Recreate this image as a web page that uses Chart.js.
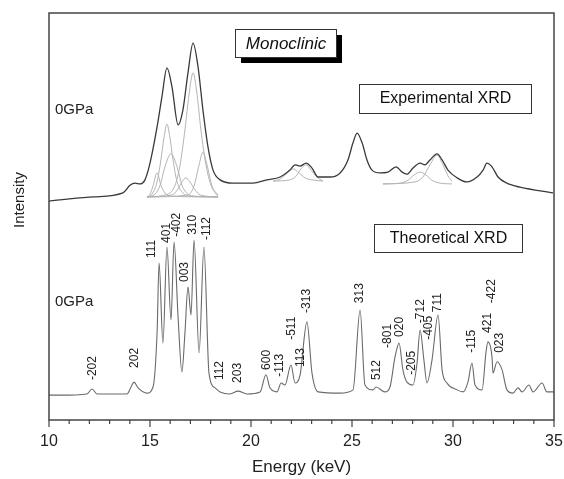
<!DOCTYPE html>
<html>
<head>
<meta charset="utf-8">
<script src="https://cdn.jsdelivr.net/npm/chart.js@4"></script>
<style>
  body { margin: 0; background: #fff; }
  canvas { display: block; }
</style>
</head>
<body>
<canvas id="xrd" width="564" height="479"></canvas>
<script>
// experimental pattern (top trace)
const expEnergy = [10.00, 10.54, 12.18, 13.66, 14.01, 14.26, 14.50, 14.75, 15.00, 15.35, 15.59, 15.84, 16.09, 16.39, 16.63, 16.88, 17.13, 17.38, 17.62, 17.87, 18.12, 18.47, 19.11, 20.10, 20.79, 21.44, 21.93, 22.18, 22.43, 22.72, 23.02, 23.32, 23.91, 24.41, 24.80, 25.05, 25.25, 25.50, 25.74, 25.99, 26.39, 26.78, 27.18, 27.48, 27.72, 28.02, 28.37, 28.61, 28.86, 29.21, 29.46, 29.75, 30.20, 30.69, 31.19, 31.49, 31.68, 31.93, 32.23, 32.67, 33.32, 34.95];
const expIntensity = [53.8, 54.1, 54.8, 55.8, 57.7, 58.2, 58.0, 59.0, 63.1, 72.0, 79.4, 86.5, 81.8, 72.5, 76.2, 85.3, 92.6, 86.7, 76.2, 67.1, 61.4, 59.0, 58.2, 58.2, 59.0, 59.7, 61.4, 62.7, 62.4, 63.1, 61.9, 59.7, 59.7, 60.7, 63.9, 68.1, 70.5, 68.1, 63.9, 61.4, 60.7, 60.9, 62.2, 60.9, 60.4, 61.9, 63.1, 62.7, 63.9, 65.4, 63.9, 61.4, 59.5, 58.5, 59.7, 61.4, 63.1, 62.2, 59.7, 58.2, 57.2, 55.8];

// calculated pattern (bottom trace)
const thEnergy = [10.00, 10.54, 11.88, 12.13, 12.38, 13.86, 14.06, 14.21, 14.41, 14.85, 15.15, 15.35, 15.45, 15.64, 15.84, 16.04, 16.19, 16.39, 16.58, 16.73, 16.88, 17.03, 17.18, 17.43, 17.67, 17.92, 18.22, 18.47, 18.96, 19.36, 19.80, 20.45, 20.74, 20.94, 21.29, 21.49, 21.68, 21.98, 22.18, 22.43, 22.77, 23.02, 23.32, 24.41, 25.05, 25.40, 25.64, 26.04, 26.19, 26.63, 26.88, 27.13, 27.33, 27.52, 27.72, 28.02, 28.22, 28.37, 28.56, 28.71, 28.96, 29.26, 29.46, 29.70, 30.20, 30.50, 30.74, 30.94, 31.09, 31.44, 31.63, 31.73, 31.93, 31.98, 32.18, 32.43, 32.67, 32.97, 33.22, 33.42, 33.76, 33.96, 34.41, 34.65, 35.00];
const thIntensity = [6.1, 6.1, 6.4, 7.6, 6.4, 6.4, 8.1, 9.3, 7.9, 6.6, 8.1, 21.4, 38.6, 18.9, 42.5, 24.6, 43.7, 25.3, 11.8, 21.4, 32.7, 25.8, 44.2, 16.5, 42.5, 11.5, 7.9, 6.9, 6.4, 7.1, 6.4, 6.9, 11.1, 7.9, 6.9, 9.1, 8.6, 13.5, 9.1, 11.1, 24.1, 11.5, 6.9, 6.6, 7.4, 27.0, 8.6, 7.4, 8.1, 6.9, 8.1, 15.5, 18.9, 12.3, 9.3, 8.6, 14.0, 22.1, 14.7, 9.1, 14.7, 25.8, 12.3, 9.1, 7.4, 6.9, 9.3, 14.0, 8.6, 7.4, 16.5, 19.2, 15.5, 11.5, 14.3, 12.3, 7.4, 6.6, 7.9, 6.9, 8.6, 6.9, 9.1, 6.9, 6.9];

// fitted components under the experimental peaks, [energy, intensity]
const fit1 = [[14.85, 54.8], [15.00, 55.5], [15.15, 57.5], [15.35, 60.7], [15.54, 57.7], [15.74, 55.8], [15.99, 55.0], [18.37, 54.8]];
const fit2 = [[14.85, 54.8], [15.10, 55.5], [15.35, 58.5], [15.54, 63.9], [15.69, 69.3], [15.84, 72.7], [15.99, 69.3], [16.14, 63.9], [16.34, 58.5], [16.63, 55.8], [16.98, 55.0], [18.37, 54.8]];
const fit3 = [[14.85, 54.8], [15.25, 55.5], [15.50, 57.7], [15.74, 62.2], [16.04, 65.4], [16.34, 62.2], [16.58, 57.7], [16.88, 55.5], [17.23, 55.0], [18.37, 54.8]];
const fit4 = [[14.85, 54.8], [16.09, 55.3], [16.39, 56.8], [16.58, 58.5], [16.78, 59.5], [16.98, 58.5], [17.23, 56.5], [17.48, 55.3], [18.37, 54.8]];
const fit5 = [[14.85, 54.8], [15.89, 55.5], [16.24, 57.7], [16.49, 62.7], [16.73, 71.3], [16.93, 79.9], [17.13, 85.3], [17.33, 79.9], [17.52, 71.3], [17.77, 62.7], [18.02, 57.7], [18.27, 55.5], [18.37, 55.0]];
const fit6 = [[14.85, 54.8], [16.88, 55.3], [17.18, 57.5], [17.43, 62.7], [17.62, 65.8], [17.82, 62.7], [18.07, 57.5], [18.37, 55.3]];
const fit7 = [[21.10, 58.7], [21.44, 59.2], [21.73, 60.4], [22.08, 61.7], [22.38, 60.7], [22.67, 59.5], [23.02, 59.0], [23.56, 58.7]];
const fit8 = [[21.10, 58.7], [21.93, 59.0], [22.23, 59.9], [22.48, 61.7], [22.72, 62.7], [22.97, 61.4], [23.22, 59.9], [23.56, 58.7]];
const fit9 = [[26.53, 58.0], [27.38, 58.2], [27.77, 58.9], [28.07, 60.2], [28.37, 60.9], [28.66, 60.2], [28.96, 58.9], [29.36, 58.2], [29.95, 58.0]];
const fit10 = [[26.53, 58.0], [28.12, 58.5], [28.51, 59.7], [28.86, 62.7], [29.21, 65.1], [29.50, 62.7], [29.75, 60.0], [29.95, 58.7]];

// Miller indices of the calculated peaks, where they sit and where their label starts
const peakNames = ['-202', '202', '111', '401', '-402', '003', '310', '-112', '112', '203', '600', '-113', '-511', '113', '-313', '313', '512', '-801', '020', '-205', '-712', '-405', '711', '-115', '421', '-422', '023'];
const peakEnergy = [12.18, 14.26, 15.10, 15.84, 16.34, 16.73, 17.13, 17.82, 18.47, 19.36, 20.79, 21.44, 22.03, 22.48, 22.77, 25.40, 26.24, 26.78, 27.38, 27.97, 28.42, 28.81, 29.26, 30.94, 31.73, 31.93, 32.33];
const peakLabelAt = [9.8, 12.8, 39.8, 43.5, 45.0, 33.9, 45.5, 44.2, 9.8, 9.1, 12.3, 10.6, 19.7, 13.0, 26.3, 28.7, 9.8, 17.7, 20.4, 11.1, 23.8, 19.7, 26.5, 16.5, 21.4, 28.7, 16.5];

const FONT = '"Liberation Sans", Arial, Helvetica, sans-serif';

function toPoints(xs, ys) {
    return xs.map((x, i) => ({ x: x, y: ys[i] }));
}

function fitSet(pairs) {
    return {
        data: pairs.map(p => ({ x: p[0], y: p[1] })),
        borderColor: '#b4b4b4',
        borderWidth: 1,
        pointRadius: 0,
        cubicInterpolationMode: 'monotone'
    };
}

const decorations = {
    id: 'decorations',
    beforeDraw(chart) {
        const ctx = chart.ctx;
        ctx.save();
        ctx.fillStyle = '#fff';
        ctx.fillRect(0, 0, chart.width, chart.height);
        ctx.restore();
    },
    afterDraw(chart) {
        const ctx = chart.ctx;
        const a = chart.chartArea;
        const xs = chart.scales.x;
        const ys = chart.scales.y;
        ctx.save();

        // frame
        ctx.strokeStyle = '#444';
        ctx.lineWidth = 1.5;
        ctx.strokeRect(a.left, a.top, a.right - a.left, a.bottom - a.top);

        // major and minor ticks on the energy axis
        ctx.lineWidth = 1.2;
        for (let v = 10; v <= 35; v++) {
            const px = xs.getPixelForValue(v);
            ctx.beginPath();
            ctx.moveTo(px, a.bottom);
            ctx.lineTo(px, a.bottom + (v % 5 === 0 ? 7 : 4));
            ctx.stroke();
        }

        // y axis title
        ctx.fillStyle = '#222';
        ctx.font = '15px ' + FONT;
        ctx.textAlign = 'center';
        ctx.textBaseline = 'middle';
        ctx.save();
        ctx.translate(20, 200);
        ctx.rotate(-Math.PI / 2);
        ctx.fillText('Intensity', 0, 0);
        ctx.restore();

        // pressure labels
        ctx.textAlign = 'left';
        ctx.font = '15px ' + FONT;
        ctx.fillText('0GPa', 55, 110);
        ctx.fillText('0GPa', 55, 302);

        // Monoclinic box with drop shadow
        ctx.fillStyle = '#000';
        ctx.fillRect(241, 35, 101, 28);
        ctx.fillStyle = '#fff';
        ctx.fillRect(235, 29, 101, 28);
        ctx.strokeStyle = '#333';
        ctx.lineWidth = 1;
        ctx.strokeRect(235.5, 29.5, 101, 28);
        ctx.fillStyle = '#111';
        ctx.font = 'italic 17px ' + FONT;
        ctx.textAlign = 'center';
        ctx.fillText('Monoclinic', 286, 44);

        // legend boxes
        ctx.font = '16px ' + FONT;
        ctx.strokeRect(359.5, 84.5, 172, 29);
        ctx.fillText('Experimental XRD', 445.5, 99);
        ctx.strokeRect(374.5, 224.5, 148, 28);
        ctx.fillText('Theoretical XRD', 448.5, 239);

        // peak indices, rotated
        ctx.font = '12px ' + FONT;
        ctx.fillStyle = '#222';
        ctx.textAlign = 'left';
        peakNames.forEach((name, i) => {
            ctx.save();
            ctx.translate(xs.getPixelForValue(peakEnergy[i]), ys.getPixelForValue(peakLabelAt[i]));
            ctx.rotate(-Math.PI / 2);
            ctx.fillText(name, 0, 0);
            ctx.restore();
        });

        ctx.restore();
    }
};

new Chart(document.getElementById('xrd'), {
    type: 'line',
    data: {
        datasets: [
            {
                data: toPoints(expEnergy, expIntensity),
                borderColor: '#3a3a3a',
                borderWidth: 1.3,
                pointRadius: 0,
                cubicInterpolationMode: 'monotone'
            },
            {
                data: toPoints(thEnergy, thIntensity),
                borderColor: '#6a6a6a',
                borderWidth: 1.1,
                pointRadius: 0,
                cubicInterpolationMode: 'monotone'
            },
            fitSet(fit1), fitSet(fit2), fitSet(fit3), fitSet(fit4), fitSet(fit5),
            fitSet(fit6), fitSet(fit7), fitSet(fit8), fitSet(fit9), fitSet(fit10)
        ]
    },
    options: {
        responsive: false,
        animation: false,
        devicePixelRatio: 1,
        layout: { padding: { left: 49, right: 10, top: 13, bottom: 1 } },
        plugins: { legend: { display: false }, tooltip: { enabled: false } },
        scales: {
            x: {
                type: 'linear',
                min: 10,
                max: 35,
                ticks: {
                    stepSize: 5,
                    padding: 12,
                    color: '#222',
                    font: { family: FONT, size: 16 }
                },
                grid: { display: false, drawTicks: false },
                border: { display: false },
                title: {
                    display: true,
                    text: 'Energy (keV)',
                    color: '#222',
                    font: { family: FONT, size: 17 },
                    padding: { top: 7, bottom: 0 }
                },
                // tick padding is counted twice when the axis is sized; fix the box by hand
                afterFit(scale) {
                    scale.height = 58;
                    scale.paddingLeft = 0;
                    scale.paddingRight = 0;
                }
            },
            y: {
                display: false,
                min: 0,
                max: 100
            }
        }
    },
    plugins: [decorations]
});
</script>
</body>
</html>
